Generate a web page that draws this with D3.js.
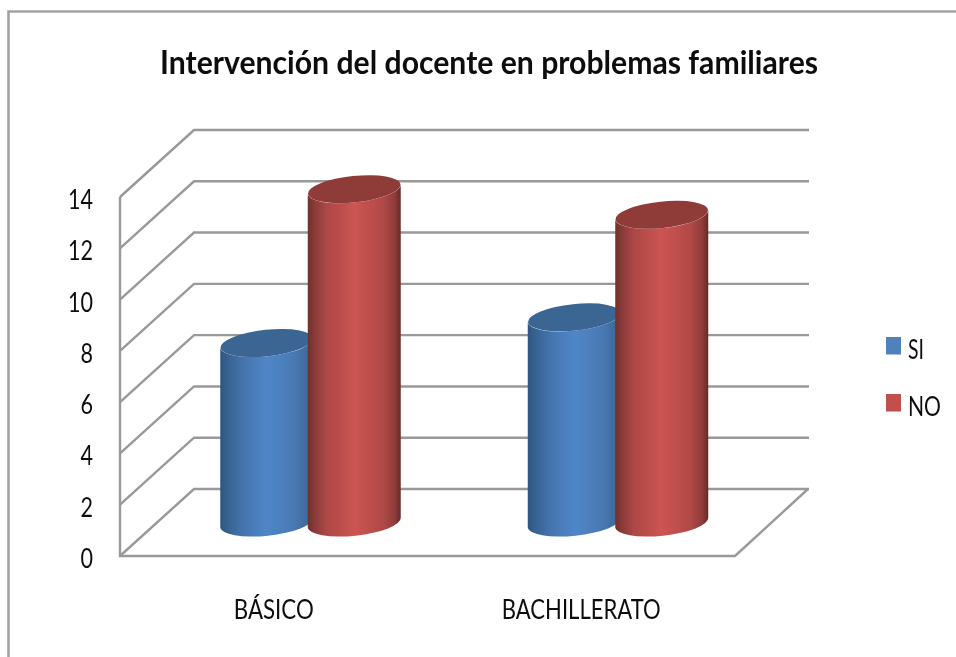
<!DOCTYPE html>
<html><head><meta charset="utf-8">
<style>html,body{margin:0;padding:0;background:#fff}svg{display:block}text{font-family:Lato,"Open Sans",sans-serif;fill:#111}</style>
<script src="https://cdn.jsdelivr.net/npm/d3@7"></script></head>
<body><div id="c"></div>
<script>
const chartTitle = "Intervención del docente en problemas familiares";
const categories = ["BÁSICO", "BACHILLERATO"];
const seriesNames = ["SI", "NO"];
const siValues = [7, 8];
const noValues = [13, 12];
const yTicks = [0, 2, 4, 6, 8, 10, 12, 14];

const W = 956, H = 657;
const svg = d3.select("#c").append("svg").attr("width", W).attr("height", H);
const defs = svg.append("defs");
defs.append("filter").attr("id", "soft").append("feGaussianBlur").attr("stdDeviation", 0.5);

const depthX = 74, depthY = -67;
const x = d3.scaleBand().domain(categories).range([120, 735]);
const y = d3.scaleLinear().domain([0, 14]).range([556, 197]);
const inner = d3.scaleBand().domain(seriesNames).range([-88, 88]);
const color = d3.scaleOrdinal().domain(seriesNames).range(["#4f81bd", "#c0504d"]);
const topColor = {SI: "#3b6593", NO: "#8f3b39"};
const stops = {
  SI: [[0, "#2f5583"], [.08, "#38618f"], [.22, "#4272aa"], [.5, "#5086c8"], [.78, "#4a7ab4"], [.93, "#3f6b9f"], [1, "#355d8c"]],
  NO: [[0, "#6f2f2d"], [.07, "#883a38"], [.2, "#ac4846"], [.5, "#cc5452"], [.8, "#b24a48"], [.93, "#923c3a"], [1, "#672a28"]]
};
seriesNames.forEach(s => {
  const g = defs.append("linearGradient").attr("id", "g" + s);
  stops[s].forEach(d => g.append("stop").attr("offset", d[0]).attr("stop-color", d[1]));
});

// frame
const frame = svg.append("g").attr("filter", "url(#soft)");
frame.append("path").attr("d", `M8.5,${H + 4} V11.5 H${W + 4}`).attr("fill", "none").attr("stroke", "#a2a2a2").attr("stroke-width", 2.6);

// walls
const grid = svg.append("g").attr("filter", "url(#soft)").attr("fill", "none").attr("stroke", "#999").attr("stroke-width", 2.4);
yTicks.forEach(t => {
  const yy = y(t);
  grid.append("path").attr("d", `M${x.range()[0]},${yy} l${depthX},${depthY} H${x.range()[1] + depthX}`);
});
grid.append("path").attr("d", `M${x.range()[0]},${y(14)} V${y(0)} H${x.range()[1]} l${depthX - 1},${depthY}`);

// cylinders
const rx = 46.5, ry = 13.2, tilt = 6;
const cyl = svg.append("g").attr("filter", "url(#soft)");
const rows = [];
seriesNames.forEach((s, si) => {
  const vals = si === 0 ? siValues : noValues;
  categories.forEach((c, i) => rows.push({s, c, v: vals[i]}));
});
rows.forEach(d => {
  const cx = x(d.c) + x.bandwidth() / 2 + depthX / 2 + inner(d.s) + inner.bandwidth() / 2 + (d.s === "SI" ? 0 : -0.5);
  const yb = y(0) + depthY / 2, yt = y(d.v) + depthY / 2;
  const arc = (sweep, px, py) => `A${rx},${ry} ${-tilt} 0 ${sweep} ${px},${py}`;
  const lx = cx - rx, rxp = cx + rx, off = rx * Math.sin(tilt * Math.PI / 180);
  cyl.append("path")
    .attr("d", `M${lx},${yt + off} L${lx},${yb + off} ${arc(0, rxp, yb - off)} L${rxp},${yt - off} ${arc(1, lx, yt + off)}Z`)
    .attr("fill", `url(#g${d.s})`);
  cyl.append("ellipse").attr("cx", cx).attr("cy", yt).attr("rx", rx).attr("ry", ry)
    .attr("transform", `rotate(${-tilt} ${cx} ${yt})`).attr("fill", topColor[d.s]);
});

// text
const txt = svg.append("g").attr("filter", "url(#soft)");
txt.append("text").attr("x", 489).attr("y", 74).attr("text-anchor", "middle")
  .attr("font-size", 33).attr("font-weight", 700).attr("textLength", 658).attr("lengthAdjust", "spacingAndGlyphs").text(chartTitle);
yTicks.forEach(t => {
  txt.append("text").attr("x", 93).attr("y", y(t) + 12).attr("text-anchor", "end").attr("font-size", 27)
    .attr("textLength", String(t).length * 12.5).attr("lengthAdjust", "spacingAndGlyphs").text(t);
});
const catWidth = {"BÁSICO": 80, "BACHILLERATO": 159};
categories.forEach(c => {
  txt.append("text").attr("x", x(c) + x.bandwidth() / 2).attr("y", 619).attr("text-anchor", "middle")
    .attr("font-size", 27).attr("textLength", catWidth[c]).attr("lengthAdjust", "spacingAndGlyphs").text(c);
});
const legend = d3.scalePoint().domain(seriesNames).range([347, 404]);
const legWidth = {SI: 16, NO: 33};
seriesNames.forEach(s => {
  txt.append("rect").attr("x", 886).attr("y", legend(s) - 10).attr("width", 15).attr("height", 17.5).attr("fill", color(s));
  txt.append("text").attr("x", 908).attr("y", legend(s) + 12).attr("font-size", 27)
    .attr("textLength", legWidth[s]).attr("lengthAdjust", "spacingAndGlyphs").text(s);
});
</script></body></html>
